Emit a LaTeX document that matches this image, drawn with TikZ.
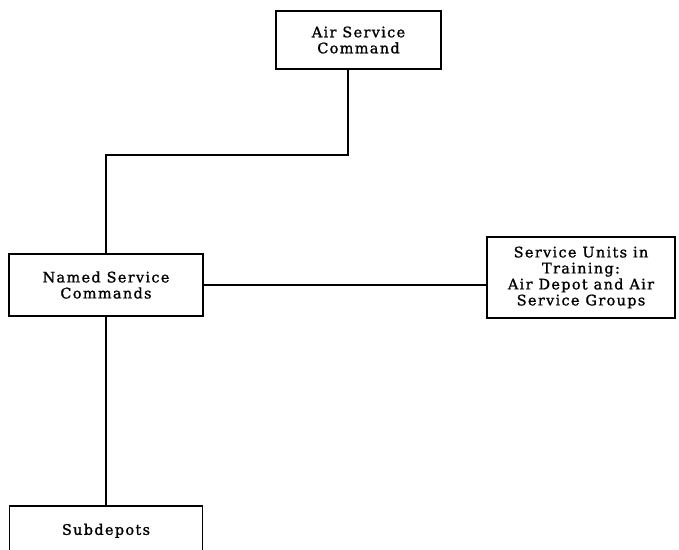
\documentclass[tikz,border=0pt]{standalone}
\usepackage{fontspec}
\setmainfont{DejaVu Serif}[LetterSpace=9,FakeBold=1.2]
\begin{document}
\begin{tikzpicture}[x=1pt,y=-1pt,
  box/.style={draw=black, line width=1.6pt, rectangle, align=center, inner sep=0pt,
    font=\fontsize{14.5}{16}\selectfont},
  link/.style={draw=black, line width=1.6pt}]
\useasboundingbox (0,0) rectangle (679,549);
\node[box, minimum width=165, minimum height=58] (asc) at (358.5,40) {Air Service\\Command};
\node[box, minimum width=194, minimum height=62] (nsc) at (106,285) {Named Service\\Commands};
\node[box, minimum width=188, minimum height=81] (su) at (581,277.5) {Service Units in\\Training:\\Air Depot and Air\\Service Groups};
\node[box, minimum width=193, minimum height=50, anchor=north] (sub) at (106,505) {Subdepots};
\coordinate (j1) at (348,155);
\coordinate (j2) at (106,155);
\draw[link] (asc.south -| j1) -- (j1) -- (j2) -- (nsc.north);
\draw[link] (nsc.east) -- (nsc.east -| su.west);
\draw[link] (nsc.south) -- (sub.north);
\end{tikzpicture}
\end{document}
